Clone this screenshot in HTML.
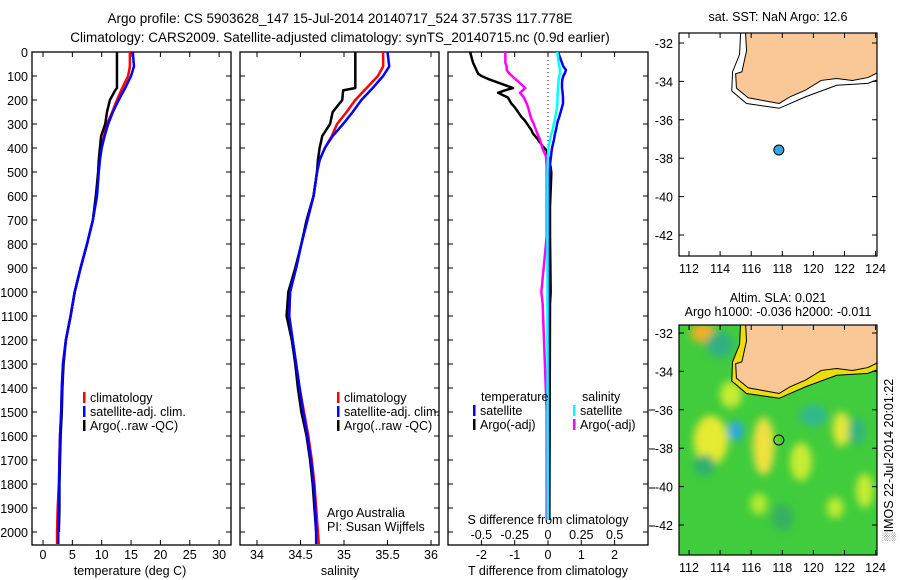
<!DOCTYPE html>
<html><head><meta charset="utf-8"><style>
body{margin:0;background:#fff}
svg{display:block;font-family:"Liberation Sans",sans-serif}
text{fill:#000}
</style></head><body>
<svg id="s" width="900" height="580" viewBox="0 0 900 580">
<defs>
<filter id="bl" x="-50%" y="-50%" width="200%" height="200%"><feGaussianBlur stdDeviation="4"/></filter>
<clipPath id="c1"><rect x="32" y="52" width="199" height="493"/></clipPath>
<clipPath id="c2"><rect x="240" y="52" width="199" height="493"/></clipPath>
<clipPath id="c3"><rect x="448" y="52" width="200" height="493"/></clipPath>
<clipPath id="m1"><rect x="679" y="33" width="198" height="223"/></clipPath>
<clipPath id="m2"><rect x="679" y="325" width="198" height="230"/></clipPath>
</defs>
<text x="340" y="23" font-size="13.5" text-anchor="middle">Argo profile: CS 5903628_147 15-Jul-2014 20140717_524 37.573S 117.778E</text>
<text x="340" y="42" font-size="13.5" text-anchor="middle">Climatology: CARS2009. Satellite-adjusted climatology: synTS_20140715.nc (0.9d earlier)</text>
<g id="g"></g>
</svg>
<script>
// ---- data ----
const tDepth=[0,60,100,150,200,250,300,350,400,450,500,600,700,800,900,1000,1100,1200,1300,1400,1500,1600,1700,1800,1900,2000,2050];
const tClim=[14.8,14.8,14.5,13.5,12.6,11.8,10.9,10.4,9.9,9.6,9.4,9.1,8.5,7.5,6.4,5.4,4.7,3.9,3.4,3.2,3.1,2.9,2.8,2.7,2.5,2.4,2.4];
const tSat=[15.3,15.5,15.0,14.0,12.9,11.9,11.1,10.5,10.0,9.7,9.5,9.2,8.5,7.5,6.4,5.4,4.7,3.9,3.4,3.2,3.1,2.9,2.8,2.75,2.7,2.6,2.6];
const aDepth=[0,150,160,200,250,300,350,400,450,500,600,700,800,900,1000,1100,1200,1300,1400,1500,1600,1700,1800,1900,2000];
const tArgo=[12.6,12.6,12.3,11.4,10.9,10.6,9.9,9.7,9.5,9.4,9.0,8.5,7.5,6.4,5.4,4.7,3.9,3.5,3.3,3.2,3.0,2.9,2.8,2.8,2.7];
const sArgo=[35.13,35.13,34.99,34.98,34.87,34.84,34.75,34.72,34.70,34.69,34.65,34.57,34.51,34.44,34.36,34.34,34.40,34.44,34.47,34.51,34.57,34.61,34.64,34.66,34.68];
const sClim=[35.45,35.45,35.39,35.26,35.13,35.03,34.92,34.86,34.78,34.72,34.69,34.65,34.58,34.51,34.45,34.38,34.37,34.41,34.45,34.49,34.54,34.59,34.63,34.66,34.68,34.70,34.71];
const sSat=[35.5,35.52,35.45,35.33,35.2,35.1,34.99,34.87,34.78,34.72,34.69,34.65,34.58,34.51,34.45,34.38,34.37,34.41,34.45,34.49,34.53,34.58,34.62,34.65,34.67,34.68,34.68];
const dDepth=[0,45,60,75,90,100,115,130,150,160,170,190,215,230,270,285,295,325,340,365,395,410,435,480,505,645,770,1000,1050,1500,1950];
const dTArgo=[-2.34,-2.25,-2.2,-2.15,-2.1,-2.0,-1.75,-1.45,-1.05,-1.3,-1.5,-1.2,-1.1,-1.0,-0.8,-0.7,-0.65,-0.5,-0.45,-0.3,-0.15,-0.04,0.0,0.08,0.1,0.06,0.06,0.08,0.06,0.05,0.04];
const dSArgo=[-0.32,-0.32,-0.31,-0.31,-0.29,-0.27,-0.24,-0.21,-0.17,-0.19,-0.21,-0.18,-0.16,-0.15,-0.13,-0.12,-0.11,-0.09,-0.08,-0.06,-0.045,-0.035,-0.015,-0.01,-0.01,-0.01,-0.01,-0.05,-0.04,-0.01,-0.01];
const dTSat=[0.3,0.42,0.46,0.54,0.5,0.46,0.43,0.42,0.42,0.43,0.44,0.45,0.45,0.42,0.34,0.3,0.28,0.24,0.21,0.18,0.13,0.11,0.09,0.05,0.03,0.02,0.02,0.01,0.01,0.01,0.01];
const dSSat=[0.07,0.08,0.085,0.09,0.09,0.085,0.08,0.078,0.075,0.074,0.073,0.071,0.07,0.068,0.055,0.05,0.045,0.035,0.025,0.015,0.005,0.002,0,-0.003,-0.004,-0.004,-0.004,-0.004,-0.004,-0.003,-0.002];
const depthTicks=[0,100,200,300,400,500,600,700,800,900,1000,1100,1200,1300,1400,1500,1600,1700,1800,1900,2000];
const tTicks=[0,5,10,15,20,25,30];
const sTicks=[34,34.5,35,35.5,36];
const dTTicks=[-2,-1,0,1,2];
const dSTicks=[-0.5,-0.25,0,0.25,0.5];
const dSLabels=["-0.5","-0.25","0","0.25","0.5"];
const latTicks=[-32,-34,-36,-38,-40,-42];
const lonTicks=[112,114,116,118,120,122,124];
const argoPos=[117.778,-37.573];
const land=[[115.6,-31],[115.7,-32.4],[115.4,-33.5],[115.0,-33.6],[115.05,-34.35],[115.8,-34.85],[116.8,-35.0],[117.8,-35.15],[118.5,-34.8],[119.5,-34.45],[120.5,-33.95],[121.5,-33.85],[122.5,-33.95],[123.5,-33.8],[124.5,-33.4],[124.5,-31]];
const shelf=[[115.35,-31],[115.25,-32.6],[114.8,-33.5],[114.75,-34.5],[115.7,-35.15],[117.8,-35.4],[119.5,-34.8],[121.5,-34.2],[123.5,-34.1],[124.5,-33.8]];
const blobs=[[113.4,-37.6,1.1,1.3,'#e6ea30'],[115.0,-37.1,0.5,0.5,'#2aa8e8'],[116.8,-37.9,0.7,1.5,'#f0e040'],[119.2,-38.7,0.7,1.0,'#c8ec30'],[121.8,-37.0,0.55,0.9,'#e6e838'],[120.0,-36.3,0.9,0.55,'#30b890'],[113.0,-38.9,0.7,0.55,'#2eb070'],[112.9,-32.0,0.8,0.5,'#f0b020'],[114.7,-35.2,0.7,0.7,'#c8ec30'],[116.5,-40.9,0.55,0.55,'#b8ea30'],[121.4,-41.1,0.55,0.55,'#c0ea30'],[123.3,-40.2,0.55,0.9,'#c8ec30'],[114.0,-32.6,0.9,0.7,'#30b080'],[122.8,-37.1,0.55,0.7,'#34b480'],[118.0,-41.6,0.7,0.7,'#34b060']];

// ---- helpers ----
const NS="http://www.w3.org/2000/svg";
const G=document.getElementById('g');
function mk(tag,at,parent){const e=document.createElementNS(NS,tag);for(const k in at)e.setAttribute(k,at[k]);(parent||G).appendChild(e);return e;}
const yD=d=>52+d*0.24;
const xT=t=>43+t*5.87;
const xS=s=>257+(s-34)*87;
const xDT=t=>548+t*33.3;
const xDS=s=>548+s*133.3;
function pline(xs,ds,fx){return xs.map((v,i)=>fx(v)+','+yD(ds[i])).join(' ');}

function panel(x0,name){
  const w=(name==='diff-panel'?200:199);
  const r=mk('rect',{x:x0,y:52,width:w,height:493,fill:'none',stroke:'#000','stroke-width':1.3});
  
  
  depthTicks.forEach(d=>{
    const y=yD(d);
    const t=mk('path',{d:`M${x0} ${y}h5M${x0+w} ${y}h-5`,stroke:'#000','stroke-width':1});
    
    
  });
}
panel(32,'temperature-panel');panel(240,'salinity-panel');panel(448,'diff-panel');

depthTicks.forEach(d=>{
  const t=mk('text',{x:28,y:yD(d)+5,'font-size':12.5,'text-anchor':'end'});
  t.textContent=d;
  
  
});
tTicks.forEach(v=>{
  const x=xT(v);
  const p=mk('path',{d:`M${x} 545v-5M${x} 52v5`,stroke:'#000'});
  
  
  const t=mk('text',{x:x,y:559,'font-size':12.5,'text-anchor':'middle'});t.textContent=v;
  
  
});
sTicks.forEach(v=>{
  const x=xS(v);
  const p=mk('path',{d:`M${x} 545v-5M${x} 52v5`,stroke:'#000'});
  
  
  const t=mk('text',{x:x,y:559,'font-size':12.5,'text-anchor':'middle'});t.textContent=v;
  
  
});
dTTicks.forEach(v=>{
  const x=xDT(v);
  const p=mk('path',{d:`M${x} 545v-5M${x} 52v5`,stroke:'#000'});
  
  
  const t=mk('text',{x:x,y:559,'font-size':12.5,'text-anchor':'middle'});t.textContent=v<0?'-'+(-v):v;
  
  
});
dSTicks.forEach((v,i)=>{
  const t=mk('text',{x:xDS(v),y:539,'font-size':12.5,'text-anchor':'middle'});t.textContent=dSLabels[i];
  
  
});
[["temperature (deg C)",130,'temperature-axis-title'],["salinity",340,'salinity-axis-title'],["T difference from climatology",548,'t-diff-axis-title']].forEach(a=>{
  const t=mk('text',{x:a[1],y:575,'font-size':12.5,'text-anchor':'middle'});t.textContent=a[0];
  
  
});
{const t=mk('text',{x:548,y:524,'font-size':12.5,'text-anchor':'middle'});t.textContent="S difference from climatology";

}
{const p=mk('line',{x1:548,y1:52,x2:548,y2:170,stroke:'#000','stroke-dasharray':'1 3'});

}

function line(xs,ds,fx,col,clip,name,w){
  const p=mk('polyline',{points:pline(xs,ds,fx),fill:'none',stroke:col,'stroke-width':w||2.5,'stroke-linejoin':'round','clip-path':`url(#${clip})`});
  
  
}
line(tClim,tDepth,xT,'#f00','c1','temperature-climatology-line');
line(tArgo,aDepth,xT,'#000','c1','temperature-argo-line');
line(tSat,tDepth,xT,'#00f','c1','temperature-satellite-line');
line(sClim,tDepth,xS,'#f00','c2','salinity-climatology-line');
line(sArgo,aDepth,xS,'#000','c2','salinity-argo-line');
line(sSat,tDepth,xS,'#00f','c2','salinity-satellite-line');
line(dTArgo,dDepth,xDT,'#000','c3','t-diff-argo-line');
line(dSArgo,dDepth,xDS,'#f0f','c3','s-diff-argo-line');
line(dTSat,dDepth,xDT,'#00f','c3','t-diff-satellite-line');
line(dSSat,dDepth,xDS,'#0ff','c3','s-diff-satellite-line');

function legend(x,y,items,name){
  items.forEach((it,i)=>{
    const b=mk('rect',{x:x,y:y+i*14-10,width:2.5,height:11,fill:it[1]});
    
    
    const t=mk('text',{x:x+7,y:y+i*14,'font-size':12.5});t.textContent=it[0];
    
    
  });
}
legend(83,402,[["climatology",'#f00'],["satellite-adj. clim.",'#00f'],["Argo(..raw -QC)",'#000']],'temperature-legend');
legend(337,402,[["climatology",'#f00'],["satellite-adj. clim.",'#00f'],["Argo(..raw -QC)",'#000']],'salinity-legend');
legend(473,415,[["satellite",'#00f'],["Argo(-adj)",'#000']],'t-diff-legend');
legend(573,415,[["satellite",'#0ff'],["Argo(-adj)",'#f0f']],'s-diff-legend');
[["temperature",481,401],["salinity",582,401],["Argo Australia",327,517],["PI: Susan Wijffels",327,531]].forEach(a=>{
  const t=mk('text',{x:a[1],y:a[2],'font-size':12.5});t.textContent=a[0];
  
  
});
[410,449,488,526].forEach(y=>{const p=mk('path',{d:`M649 ${y}h6`,stroke:'#000'});

});

// ---- maps ----
function map(top,bot,latY0,clip,name,heat){
  const lx=lon=>689+(lon-112)*15.55;
  const ly=lat=>latY0+(-32-lat)*19.2;
  const g=mk('g',{'clip-path':`url(#${clip})`});
  
  
  const pts=a=>a.map(p=>lx(p[0])+','+ly(p[1])).join(' ');
  if(heat){
    mk('rect',{x:679,y:top,width:198,height:bot-top,fill:'#40cc3c'},g);
    const hb=mk('g',{filter:'url(#bl)'},g);
    blobs.forEach(b=>{const e=mk('ellipse',{cx:lx(b[0]),cy:ly(b[1]),rx:b[2]*15.55,ry:b[3]*19.2,fill:b[4]},hb);
      
      });
    const sh=mk('polygon',{points:pts(shelf.concat([[124.5,-31]])),fill:'#ecdc10'},g);
    
    
  }
  const l=mk('polygon',{points:pts(land),fill:'#fac896',stroke:'#000','stroke-width':1},g);
  
  
  const s=mk('polyline',{points:pts(shelf),fill:'none',stroke:'#000','stroke-width':1},g);
  
  
  const dot=mk('circle',{cx:lx(argoPos[0]),cy:ly(argoPos[1]),r:5,fill:heat?'none':'#33aadd',stroke:'#000','stroke-width':1});
  
  
  const f=mk('rect',{x:679,y:top,width:198,height:bot-top,fill:'none',stroke:'#000','stroke-width':1.2});
  
  
  latTicks.forEach(v=>{const y=ly(v);
    const p=mk('path',{d:`M679 ${y}h5M877 ${y}h-5`,stroke:'#000'});
    
    
    const t=mk('text',{x:673,y:y+5,'font-size':12.5,'text-anchor':'end'});t.textContent=v;
    
    });
  lonTicks.forEach(v=>{const x=lx(v);
    const p=mk('path',{d:`M${x} ${bot}v-5M${x} ${top}v5`,stroke:'#000'});
    
    
    const t=mk('text',{x:x,y:bot+17,'font-size':12.5,'text-anchor':'middle'});t.textContent=v;
    
    });
}
map(33,256,43,'m1','sst-map',false);
map(325,555,333,'m2','sla-map',true);
[["sat. SST: NaN  Argo: 12.6",778,21],["Altim. SLA: 0.021",778,302],["Argo h1000: -0.036 h2000: -0.011",778,316]].forEach(a=>{
  const t=mk('text',{x:a[1],y:a[2],'font-size':12.5,'text-anchor':'middle'});t.textContent=a[0];
  
  });
{const t=mk('text',{x:0,y:0,'font-size':12.5,'text-anchor':'middle',transform:'translate(893,460) rotate(-90)'});
t.textContent="\u2591IMOS 22-Jul-2014 20:01:22";

}
</script>
</body></html>
